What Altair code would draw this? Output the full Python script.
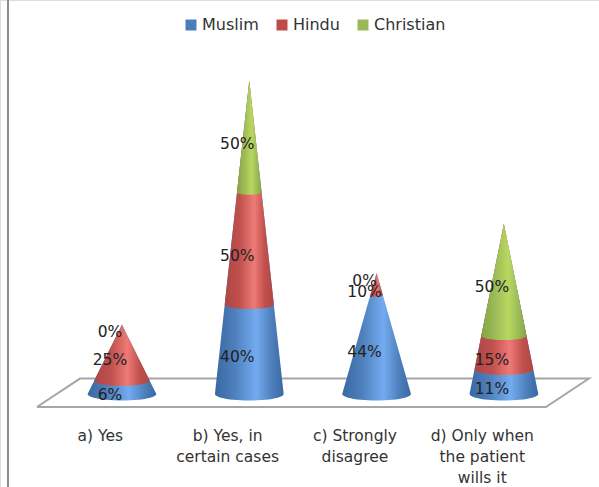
import altair as alt
import numpy as np
import pandas as pd

categories = ["a) Yes", "b) Yes, in|certain cases", "c) Strongly|disagree", "d) Only when|the patient|wills it"]
series = ["Muslim", "Hindu", "Christian"]
muslim = [6, 40, 44, 11]
hindu = [25, 50, 10, 15]
christian = [0, 50, 0, 50]

legend_colors = ["#4A7EBB", "#BE4B48", "#98B954"]
edge_colors = ["#3A68A3", "#AE4644", "#86A542"]
body_colors = ["#4F81BD", "#C0504D", "#9BBB59"]
glow_colors = ["#74ABF0", "#EE7A77", "#B9D85F"]
floor_x = [-0.668, -0.33, 3.668, 3.33, -0.668]
floor_y = [-5.8, 6.9, 6.9, -5.8, -5.8]

BASE_RADIUS = 0.27      # cone radius at the floor, in category widths
ELLIPSE_DEPTH = 2.9     # half-height of the base ellipse, in value units
FONT = "DejaVu Sans"
TEXT = "#333333"

x_scale = alt.Scale(domain=[-0.958, 3.747], range=[0, 599], nice=False, zero=False)
y_scale = alt.Scale(domain=[-41.5, 175.9], range=[487, 0], nice=False, zero=False)
no_x = dict(scale=x_scale, axis=None)
no_y = dict(scale=y_scale, axis=None)


def cone_outline(center, level, apex, key):
    """Cone silhouette from `level` up to `apex`, closed below by a front arc."""
    radius = BASE_RADIUS * (1 - level / apex)
    depth = ELLIPSE_DEPTH * (1 - level / apex)
    rows = []
    for t in np.linspace(np.pi / 2, 0, 14):
        half = radius * np.cos(t)
        rows.append((level - depth * np.sin(t), half))
    for v in np.linspace(level, apex, 12)[1:]:
        rows.append((v, BASE_RADIUS * (1 - v / apex)))
    return [
        {"shape": key, "v": v, "left": center - h, "right": center + h}
        for v, h in rows
    ]


table = list(zip(muslim, hindu, christian))
outlines = {name: [] for name in series}
labels = []
for i, values in enumerate(table):
    apex = sum(values)
    level = 0
    for name, value in zip(series, values):
        if value > 0:
            outlines[name] += cone_outline(i, level, apex, f"{name}-{i}")
        labels.append({"x": i, "v": level + value / 2, "text": f"{value}%"})
        level += value

layers = []

# Floor of the 3-D plot
floor = pd.DataFrame({"x": floor_x, "y": floor_y, "step": range(len(floor_x))})
layers.append(
    alt.Chart(floor).mark_line(color="#A6A6A6", strokeWidth=2).encode(
        x=alt.X("x:Q", **no_x), y=alt.Y("y:Q", **no_y), order="step:Q"
    )
)

# Cones, painted from the full silhouette upward so each series covers the one below
for name, edge, body, glow in zip(series, edge_colors, body_colors, glow_colors):
    fill = alt.Gradient(
        gradient="linear", x1=0, x2=1, y1=0, y2=0,
        stops=[
            alt.GradientStop(color=edge, offset=0),
            alt.GradientStop(color=body, offset=0.3),
            alt.GradientStop(color=glow, offset=0.6),
            alt.GradientStop(color=body, offset=0.82),
            alt.GradientStop(color=edge, offset=1),
        ],
    )
    layers.append(
        alt.Chart(pd.DataFrame(outlines[name])).mark_area(
            orient="horizontal", color=fill, interpolate="linear"
        ).encode(
            y=alt.Y("v:Q", **no_y),
            x=alt.X("left:Q", **no_x),
            x2="right:Q",
            detail="shape:N",
        )
    )

# Percentage labels, offset to the left of each cone's axis
layers.append(
    alt.Chart(pd.DataFrame(labels)).mark_text(
        font=FONT, fontSize=15.5, color="#222222", dx=-12, dy=7.5
    ).encode(x=alt.X("x:Q", **no_x), y=alt.Y("v:Q", **no_y), text="text:N")
)

# Category labels beneath the floor's front edge
ticks = pd.DataFrame({"x": np.arange(len(categories)) - 0.17, "v": -18.8, "text": categories})
layers.append(
    alt.Chart(ticks).mark_text(
        font=FONT, fontSize=15.5, color=TEXT, lineBreak="|", lineHeight=21, baseline="middle"
    ).encode(x=alt.X("x:Q", **no_x), y=alt.Y("v:Q", **no_y), text="text:N")
)

# Left frame line
layers.append(
    alt.Chart(pd.DataFrame({"a": [0]})).mark_rule(color="#8C8C8C", strokeWidth=2).encode(
        x=alt.value(8), y=alt.value(0), y2=alt.value(487)
    )
)

# Invisible points that carry the colour legend
layers.append(
    alt.Chart(pd.DataFrame({"series": series})).mark_point(opacity=0).encode(
        x=alt.value(-50),
        y=alt.value(-50),
        color=alt.Color(
            "series:N",
            sort=series,
            scale=alt.Scale(domain=series, range=legend_colors),
            legend=alt.Legend(
                title=None, orient="none", legendX=183, legendY=17, direction="horizontal",
                symbolType="square", symbolSize=121, symbolOpacity=1, symbolStrokeWidth=0,
                symbolFillColor=None, labelFont=FONT, labelFontSize=16, labelColor=TEXT,
                columnPadding=15, labelOffset=3, padding=0,
            ),
        ),
        fill=alt.Fill(
            "series:N", sort=series,
            scale=alt.Scale(domain=series, range=legend_colors), legend=None,
        ),
    )
)

chart = alt.layer(*layers).properties(
    width=599, height=487, padding=0, autosize=alt.AutoSizeParams(type="none")
).configure_view(stroke=None).configure(background="#FFFFFF")

chart.save("out.html", embed_options={"renderer": "svg", "actions": False})
